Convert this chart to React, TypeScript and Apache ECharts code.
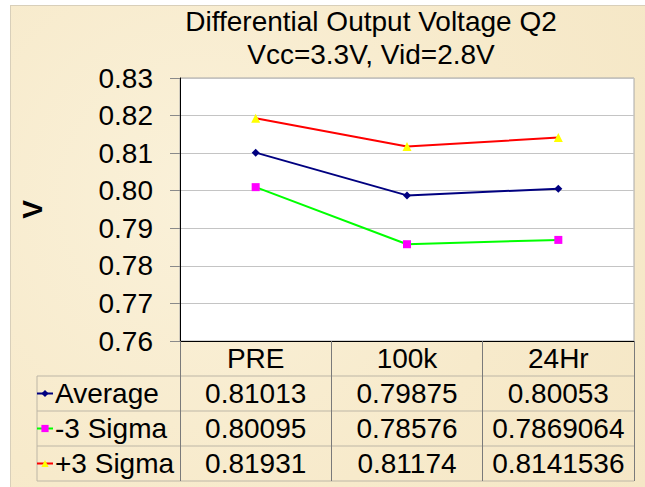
import React, { useEffect, useRef } from "react";
import * as echarts from "echarts";

const categories = ["PRE", "100k", "24Hr"];
const seriesNames = ["Average", "-3 Sigma", "+3 Sigma"];
const average = [0.81013, 0.79875, 0.80053];
const minus3Sigma = [0.80095, 0.78576, 0.7869064];
const plus3Sigma = [0.81931, 0.81174, 0.8141536];
const yMin = 0.76;
const yMax = 0.83;
const yStep = 0.01;
const titleLines = ["Differential Output Voltage Q2", "Vcc=3.3V, Vid=2.8V"];
const yName = "V";

const FONT = '"Liberation Sans", Arial, sans-serif';

export default function App() {
  const ref = useRef<HTMLDivElement | null>(null);

  useEffect(() => {
    if (!ref.current) return;
    const chart = echarts.init(ref.current, null, { renderer: "svg" });
    const table = [average, minus3Sigma, plus3Sigma];
    const rowLines = [376, 411, 446, 481];
    const graphics: any[] = rowLines.map((y) => ({
      type: "line",
      silent: true,
      shape: { x1: 37, y1: y, x2: 634, y2: y },
      style: { stroke: "#BDB6A6", lineWidth: 1 },
    }));
    graphics.push({
      type: "line",
      silent: true,
      shape: { x1: 37, y1: 376, x2: 37, y2: 481 },
      style: { stroke: "#BDB6A6", lineWidth: 1 },
    });

    chart.setOption({
      animation: false,
      textStyle: { fontFamily: FONT },
      title: {
        text: titleLines.join("\n"),
        left: 371,
        top: 5,
        textAlign: "center",
        padding: 0,
        textStyle: {
          fontFamily: FONT,
          fontSize: 28,
          fontWeight: "normal",
          lineHeight: 33,
          color: "#000",
        },
      },
      legend: {
        orient: "vertical",
        left: 36,
        top: 376,
        padding: 0,
        itemGap: 0,
        itemWidth: 16,
        itemHeight: 9,
        data: seriesNames,
        textStyle: {
          fontFamily: FONT,
          fontSize: 28,
          lineHeight: 35,
          color: "#000",
          padding: [0, 0, 0, -3],
        },
      },
      grid: {
        left: 180,
        top: 78,
        right: 11,
        bottom: 146,
        show: true,
        backgroundColor: "#FFFFFF",
        borderColor: "#A8A8A8",
        borderWidth: 1,
      },
      xAxis: {
        type: "category",
        data: categories,
        boundaryGap: true,
        axisLine: { lineStyle: { color: "#000", width: 1 } },
        axisTick: { show: true, length: 140, lineStyle: { color: "#7A7A7A" } },
        axisLabel: {
          interval: 0,
          margin: 0,
          fontFamily: FONT,
          fontSize: 28,
          lineHeight: 35,
          color: "#000",
          formatter: (v: string, i: number) =>
            [v, ...table.map((s) => String(s[i]))].join("\n"),
        },
        splitLine: { show: false },
      },
      yAxis: {
        type: "value",
        min: yMin,
        max: yMax,
        interval: yStep,
        name: yName,
        nameLocation: "middle",
        nameRotate: 90,
        nameGap: 134,
        nameTextStyle: {
          fontFamily: FONT,
          fontSize: 28,
          fontWeight: "bold",
          color: "#000",
        },
        axisLine: { show: true, lineStyle: { color: "#000", width: 1 } },
        axisTick: { show: true, length: 10, lineStyle: { color: "#8A8A8A" } },
        axisLabel: {
          margin: 27,
          fontFamily: FONT,
          fontSize: 28,
          color: "#000",
          formatter: (v: number) => v.toFixed(2),
        },
        splitLine: { show: true, lineStyle: { color: "#C4C4C4", width: 1 } },
      },
      series: [
        {
          name: seriesNames[0],
          type: "line",
          data: average,
          symbol: "diamond",
          symbolSize: 8,
          lineStyle: { color: "#000080", width: 2 },
          itemStyle: { color: "#000080" },
        },
        {
          name: seriesNames[1],
          type: "line",
          data: minus3Sigma,
          symbol: "rect",
          symbolSize: 8,
          lineStyle: { color: "#00FF00", width: 2 },
          itemStyle: { color: "#FF00FF" },
        },
        {
          name: seriesNames[2],
          type: "line",
          data: plus3Sigma,
          symbol: "triangle",
          symbolSize: 9,
          lineStyle: { color: "#FF0000", width: 2 },
          itemStyle: { color: "#FFFF00" },
        },
      ],
      graphic: graphics,
    });

    return () => chart.dispose();
  }, []);

  return (
    <div
      style={{
        position: "absolute",
        left: 0,
        top: 0,
        width: 645,
        height: 487,
        background: "#FFFFFF",
        overflow: "hidden",
      }}
    >
      <div
        style={{
          position: "absolute",
          left: 10,
          top: 5,
          right: 0,
          bottom: 0,
          background:
            "radial-gradient(circle at 30% 40%, #FAF1D9 0%, #F7EACB 60%, #F5E7C6 100%)",
          borderLeft: "1px solid #D8CFBA",
          borderTop: "1px solid #D8CFBA",
        }}
      />
      <div
        ref={ref}
        style={{ position: "absolute", left: 0, top: 0, width: 645, height: 487 }}
      />
    </div>
  );
}
